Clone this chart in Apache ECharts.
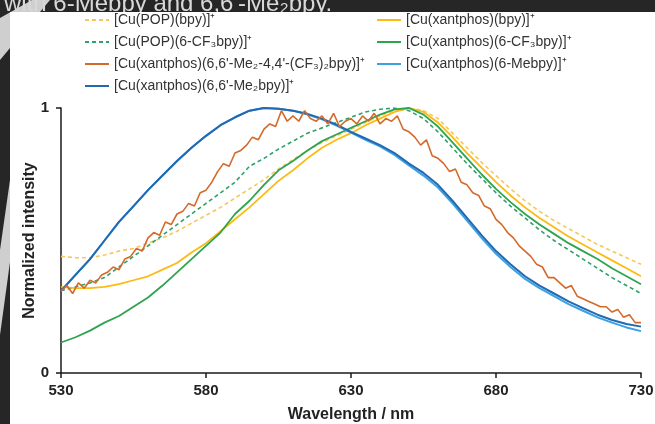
<!DOCTYPE html>
<html><head><meta charset="utf-8">
<script src="https://cdn.jsdelivr.net/npm/echarts@6/dist/echarts.min.js"></script>
<style>html,body{margin:0;padding:0;background:#262626}#c{width:655px;height:424px}</style>
</head><body><div id="c"></div>
<script>
// ---- data ----
const xTicks = [530, 580, 630, 680, 730];
const yTicks = [0, 1];
const wl5 = [530,535,540,545,550,555,560,565,570,575,580,585,590,595,600,605,610,615,620,625,630,635,640,645,650,655,660,665,670,675,680,685,690,695,700,705,710,715,720,725,730];
const popBpy = [0.44,0.435,0.435,0.445,0.46,0.47,0.49,0.51,0.535,0.565,0.595,0.625,0.66,0.695,0.73,0.77,0.805,0.84,0.87,0.895,0.92,0.945,0.97,0.99,1.0,0.99,0.96,0.905,0.85,0.795,0.745,0.695,0.65,0.61,0.575,0.545,0.515,0.485,0.46,0.435,0.41];
const xantBpy = [0.325,0.32,0.32,0.325,0.335,0.35,0.365,0.39,0.415,0.455,0.49,0.535,0.58,0.625,0.675,0.725,0.765,0.81,0.85,0.88,0.905,0.935,0.96,0.985,1.0,0.985,0.945,0.89,0.83,0.775,0.72,0.67,0.625,0.585,0.55,0.515,0.485,0.455,0.425,0.395,0.365];
const popCF3 = [0.31,0.325,0.34,0.36,0.40,0.44,0.48,0.52,0.56,0.60,0.64,0.68,0.72,0.78,0.81,0.845,0.875,0.905,0.925,0.945,0.965,0.985,0.995,1.0,0.99,0.96,0.91,0.85,0.79,0.735,0.68,0.63,0.585,0.54,0.50,0.465,0.43,0.395,0.36,0.33,0.30];
const xantCF3 = [0.115,0.135,0.16,0.19,0.215,0.25,0.285,0.33,0.38,0.43,0.48,0.53,0.60,0.65,0.71,0.765,0.80,0.84,0.875,0.90,0.925,0.95,0.975,0.995,1.0,0.975,0.93,0.87,0.81,0.75,0.695,0.645,0.60,0.56,0.525,0.49,0.46,0.43,0.395,0.365,0.335];
const me2Bpy = [0.31,0.37,0.43,0.50,0.57,0.63,0.69,0.745,0.80,0.85,0.895,0.935,0.965,0.99,1.0,0.997,0.99,0.978,0.96,0.937,0.91,0.885,0.86,0.83,0.79,0.755,0.71,0.65,0.585,0.52,0.46,0.41,0.365,0.33,0.30,0.27,0.245,0.22,0.20,0.185,0.175];
const meBpy = [0.31,0.37,0.43,0.50,0.57,0.63,0.69,0.745,0.80,0.85,0.895,0.935,0.965,0.99,1.0,0.997,0.99,0.975,0.957,0.934,0.907,0.88,0.855,0.823,0.783,0.745,0.70,0.64,0.575,0.51,0.45,0.40,0.355,0.32,0.29,0.26,0.235,0.21,0.19,0.172,0.158];
const wl2 = [530,532,534,536,538,540,542,544,546,548,550,552,554,556,558,560,562,564,566,568,570,572,574,576,578,580,582,584,586,588,590,592,594,596,598,600,602,604,606,608,610,612,614,616,618,620,622,624,626,628,630,632,634,636,638,640,642,644,646,648,650,652,654,656,658,660,662,664,666,668,670,672,674,676,678,680,682,684,686,688,690,692,694,696,698,700,702,704,706,708,710,712,714,716,718,720,722,724,726,728,730];
const me2CF3Bpy = [0.31,0.33,0.30,0.34,0.32,0.35,0.34,0.37,0.38,0.40,0.39,0.43,0.44,0.47,0.46,0.51,0.53,0.52,0.57,0.56,0.60,0.61,0.64,0.63,0.68,0.69,0.72,0.76,0.79,0.78,0.83,0.84,0.86,0.89,0.88,0.92,0.94,0.93,0.99,0.95,0.97,0.95,0.99,0.96,0.95,0.97,0.94,0.98,0.93,0.95,0.96,0.94,0.97,0.95,0.98,0.94,0.96,0.95,0.97,0.92,0.91,0.89,0.86,0.88,0.82,0.81,0.79,0.76,0.77,0.72,0.71,0.68,0.67,0.63,0.62,0.58,0.56,0.53,0.51,0.48,0.46,0.44,0.41,0.40,0.36,0.36,0.34,0.32,0.33,0.29,0.28,0.27,0.26,0.25,0.25,0.23,0.24,0.21,0.22,0.19,0.19];

const names = {
  popBpy: '[Cu(POP)(bpy)]\u207A',
  popCF3: '[Cu(POP)(6-CF\u2083bpy)]\u207A',
  me2CF3: "[Cu(xantphos)(6,6'-Me\u2082-4,4'-(CF\u2083)\u2082bpy)]\u207A",
  me2: "[Cu(xantphos)(6,6'-Me\u2082bpy)]\u207A",
  xantBpy: '[Cu(xantphos)(bpy)]\u207A',
  xantCF3: '[Cu(xantphos)(6-CF\u2083bpy)]\u207A',
  me: '[Cu(xantphos)(6-Mebpy)]\u207A'
};

function pairs(xs, ys){ return xs.map((x,i)=>[x, ys[i]]); }
function ser(name, xs, ys, color, dashed, width, z){
  return {name, type:'line', data:pairs(xs,ys), symbol:'none', smooth:false, z:z||2,
    lineStyle:{color, width:width||1.6, type: dashed ? [4,3] : 'solid'}, itemStyle:{color}};
}

const FONT = 'Liberation Sans, Arial, sans-serif';
const chart = echarts.init(document.getElementById('c'), null, {renderer:'canvas'});
const legText = {fontSize:14, color:'#333', fontFamily:FONT};
const legCommon = {orient:'vertical', padding:0, itemWidth:24, itemHeight:14, itemGap:8, textStyle:legText,
  itemStyle:{color:'transparent', borderColor:'transparent', borderWidth:0}};
chart.setOption({
  backgroundColor:'#262626',
  animation:false,
  graphic:[
    {type:'polygon', z:-10, shape:{points:[[32,0],[50,0],[0,60],[0,18]]}, style:{fill:'#cfcfcf'}},
    {type:'polygon', z:-10, shape:{points:[[10,180],[10,262],[0,335],[0,250]]}, style:{fill:'#cfcfcf'}},
    {type:'text', z:-9, x:4, y:16, style:{text:"with 6-Mebpy and 6,6'-Me\u2082bpy.", fill:'#d8d8d8', font:'24px "Liberation Sans", Arial, sans-serif', verticalAlign:'bottom'}},
    {type:'rect', z:-5, shape:{x:10, y:12, width:645, height:412}, style:{fill:'#ffffff'}}
  ],
  legend:[
    Object.assign({left:84, top:13, data:[names.popBpy, names.popCF3, names.me2CF3, names.me2]}, legCommon),
    Object.assign({left:376, top:13, data:[names.xantBpy, names.xantCF3, names.me]}, legCommon)
  ],
  grid:{left:61, right:14, top:108, bottom:51, containLabel:false, outerBoundsMode:'none'},
  xAxis:{type:'value', min:530, max:730, interval:50,
    name:'Wavelength / nm', nameLocation:'middle', nameGap:34, nameMoveOverlap:false,
    nameTextStyle:{fontSize:16, fontWeight:'bold', color:'#222', fontFamily:FONT},
    axisLine:{lineStyle:{color:'#1a1a1a', width:1.5}},
    axisTick:{show:true, inside:false, length:5, lineStyle:{color:'#1a1a1a', width:1.5}},
    axisLabel:{fontSize:15, fontWeight:'bold', color:'#222', margin:10, fontFamily:FONT,
      formatter:v=> xTicks.includes(v) ? String(v) : ''},
    splitLine:{show:false}},
  yAxis:{type:'value', min:0, max:1, interval:1,
    name:'Normalized intensity', nameLocation:'middle', nameGap:23, nameMoveOverlap:false,
    nameTextStyle:{fontSize:16, fontWeight:'bold', color:'#222', fontFamily:FONT},
    axisLine:{show:true, lineStyle:{color:'#1a1a1a', width:1.5}},
    axisTick:{show:true, inside:false, length:5, lineStyle:{color:'#1a1a1a', width:1.5}},
    axisLabel:{fontSize:15, fontWeight:'bold', color:'#222', margin:12, fontFamily:FONT,
      formatter:v=> yTicks.includes(v) ? String(v) : ''},
    splitLine:{show:false}},
  series:[
    ser(names.popBpy, wl5, popBpy, '#F6C75A', true, 1.6),
    ser(names.popCF3, wl5, popCF3, '#2FA06A', true, 1.6),
    ser(names.xantBpy, wl5, xantBpy, '#FCBA12', false, 1.8),
    ser(names.xantCF3, wl5, xantCF3, '#2EA44F', false, 1.8),
    ser(names.me, wl5, meBpy, '#3AA2E2', false, 2),
    ser(names.me2, wl5, me2Bpy, '#2169B3', false, 2),
    ser(names.me2CF3, wl2, me2CF3Bpy, '#D4692A', false, 1.6, 3)
  ]
});
</script></body></html>
